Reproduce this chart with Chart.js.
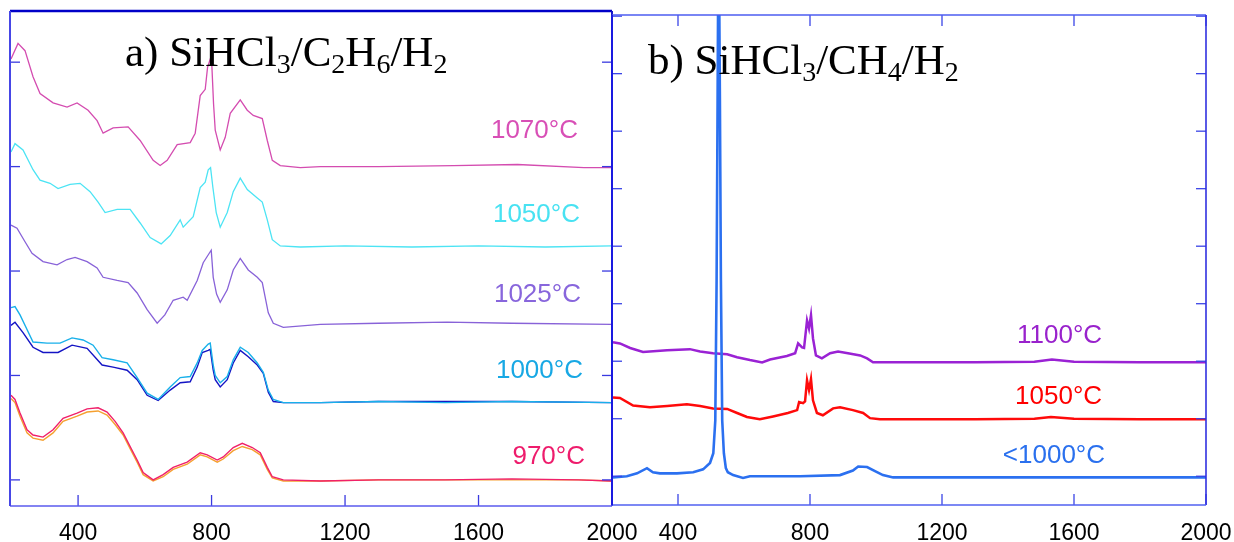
<!DOCTYPE html>
<html>
<head>
<meta charset="utf-8">
<script src="https://cdn.jsdelivr.net/npm/chart.js@4.4.1/dist/chart.umd.min.js"></script>
<style>
  body { margin: 0; background: #fff; width: 1234px; height: 542px; position: relative; overflow: hidden; }
  canvas { position: absolute; top: 0; }
  #chartA { left: 0; width: 640px; height: 542px; }
  #chartB { left: 590px; width: 644px; height: 542px; }
  .title { position: absolute; font-family: 'Liberation Serif', 'Times New Roman', serif; font-size: 43px;
           line-height: 43px; color: #000; white-space: nowrap; }
  .title sub { font-size: 28px; vertical-align: -7px; line-height: 0; }
</style>
</head>
<body>
<canvas id="chartA" width="640" height="542"></canvas>
<canvas id="chartB" width="644" height="542"></canvas>
<div class="title" style="left:125px;top:30px">a) SiHCl<sub>3</sub>/C<sub>2</sub>H<sub>6</sub>/H<sub>2</sub></div>
<div class="title" style="left:648px;top:38px">b) SiHCl<sub>3</sub>/CH<sub>4</sub>/H<sub>2</sub></div>
<script>
/* spectra: [wavenumber, intensity (offset, a.u.)] */
const xTicks = [400, 800, 1200, 1600, 2000];
const yTicksA = [0, 1, 2, 3, 4];
const yTicksB = [0, 1, 2, 3, 4, 5, 6, 7, 8];

// panel a) SiHCl3/C2H6/H2
const a1070 = [[199,4.03],[220,4.18],[241,4.11],[265,3.86],[286,3.70],[325,3.61],[367,3.57],[397,3.61],[430,3.54],
  [457,3.44],[475,3.32],[505,3.37],[550,3.38],[586,3.25],[625,3.06],[646,3.01],[667,3.06],[697,3.21],[736,3.23],
  [751,3.32],[766,3.68],[781,3.74],[788,3.95],[795,4.02],[801,3.96],[806,3.60],[811,3.35],[826,3.16],[841,3.28],
  [856,3.51],[886,3.64],[907,3.54],[925,3.49],[952,3.46],[967,3.25],[982,3.06],[1006,3.01],[1066,2.99],[1126,3.00],
  [1300,3.00],[1525,3.01],[1717,3.02],[1916,2.99],[2000,2.99]];
const a1050 = [[199,3.14],[211,3.22],[235,3.16],[265,2.97],[286,2.87],[316,2.84],[340,2.79],[376,2.83],[406,2.84],
  [436,2.76],[460,2.66],[481,2.56],[517,2.59],[556,2.59],[586,2.46],[616,2.32],[649,2.26],[676,2.34],[706,2.49],
  [715,2.42],[745,2.52],[766,2.80],[781,2.85],[790,2.97],[797,2.99],[804,2.80],[814,2.56],[826,2.42],[847,2.56],
  [865,2.76],[886,2.89],[907,2.78],[937,2.70],[952,2.66],[967,2.49],[982,2.30],[1006,2.24],[1066,2.23],[1200,2.24],
  [1400,2.23],[1600,2.24],[1800,2.23],[2000,2.24]];
const a1025 = [[199,2.44],[217,2.41],[241,2.28],[262,2.17],[295,2.09],[337,2.06],[367,2.11],[391,2.13],[427,2.09],
  [457,2.03],[475,1.94],[517,1.91],[550,1.89],[577,1.79],[607,1.63],[637,1.50],[660,1.58],[685,1.72],[715,1.75],
  [727,1.72],[757,1.91],[775,2.08],[795,2.18],[799,2.20],[805,1.94],[815,1.78],[826,1.70],[847,1.82],[865,2.01],
  [886,2.12],[910,2.01],[937,1.94],[952,1.89],[970,1.60],[985,1.50],[1015,1.46],[1126,1.49],[1300,1.50],[1506,1.51],
  [1700,1.50],[2000,1.49]];
const a1000light = [[199,1.65],[211,1.66],[226,1.58],[247,1.44],[265,1.32],[307,1.31],[346,1.31],[382,1.36],[415,1.34],
  [445,1.29],[472,1.17],[505,1.15],[547,1.12],[577,0.98],[607,0.83],[640,0.77],[676,0.89],[706,0.98],[736,0.99],
  [757,1.12],[772,1.24],[790,1.30],[796,1.31],[805,1.10],[811,1.00],[826,0.93],[847,0.99],[865,1.15],[886,1.27],
  [910,1.22],[937,1.12],[955,1.03],[970,0.86],[985,0.77],[1015,0.74],[1126,0.74],[1300,0.75],[1500,0.74],[1700,0.75],
  [2000,0.74]];
const a1000dark = [[199,1.48],[211,1.51],[235,1.41],[265,1.27],[295,1.22],[340,1.22],[382,1.29],[427,1.26],[472,1.10],
  [505,1.08],[547,1.05],[577,0.96],[607,0.81],[640,0.76],[676,0.86],[706,0.93],[736,0.94],[757,1.08],[772,1.22],
  [790,1.24],[796,1.25],[805,1.05],[811,0.96],[826,0.89],[847,0.96],[865,1.12],[886,1.24],[910,1.18],[937,1.10],
  [955,1.02],[970,0.84],[985,0.75],[1015,0.74],[1126,0.74],[1300,0.75],[1500,0.75],[1700,0.75],[2000,0.74]];
const a970 = [[199,0.81],[211,0.77],[226,0.64],[247,0.48],[265,0.43],[295,0.41],[325,0.48],[355,0.59],[397,0.64],
  [427,0.68],[460,0.69],[487,0.65],[511,0.56],[535,0.45],[556,0.32],[577,0.19],[595,0.07],[625,0.00],[655,0.05],
  [685,0.12],[727,0.17],[766,0.26],[787,0.24],[817,0.19],[835,0.22],[865,0.31],[892,0.35],[922,0.31],[946,0.26],
  [967,0.12],[982,0.03],[1015,0.00],[1126,-0.01],[1300,0.00],[1500,0.00],[1700,0.01],[1900,0.00],[2000,-0.01]];
const a970b = [[199,0.78],[211,0.74],[226,0.61],[247,0.45],[265,0.40],[295,0.38],[325,0.45],[355,0.56],[397,0.61],
  [427,0.65],[460,0.66],[487,0.62],[511,0.53],[535,0.43],[556,0.30],[577,0.17],[595,0.05],[625,-0.01],[655,0.03],
  [685,0.10],[727,0.15],[766,0.24],[787,0.22],[817,0.17],[835,0.20],[865,0.28],[892,0.32],[922,0.29],[946,0.24],
  [967,0.10],[982,0.02],[1015,-0.01],[1126,-0.01],[1300,0.00],[1500,0.00],[1700,0.00],[1900,0.00],[2000,-0.01]];

// panel b) SiHCl3/CH4/H2
const b1100 = [[203,2.33],[224,2.31],[255,2.23],[294,2.16],[367,2.19],[436,2.21],[467,2.17],[506,2.14],[549,2.12],
  [579,2.07],[618,2.02],[655,1.98],[679,2.03],[730,2.09],[755,2.14],[764,2.31],[776,2.24],[782,2.23],[791,2.71],
  [797,2.57],[803,2.80],[809,2.40],[818,2.10],[836,2.05],[861,2.14],[885,2.17],[915,2.14],[952,2.10],[973,2.05],
  [991,1.98],[1073,1.98],[1300,1.98],[1480,1.99],[1533,2.03],[1600,1.99],[1800,1.98],[2000,1.98]];
const b1050 = [[203,1.37],[224,1.36],[264,1.23],[315,1.20],[367,1.22],[427,1.25],[467,1.22],[506,1.18],[549,1.17],
  [579,1.10],[609,1.03],[648,0.99],[688,1.04],[733,1.10],[761,1.15],[767,1.29],[779,1.27],[785,1.30],[791,1.67],
  [797,1.50],[803,1.69],[809,1.32],[821,1.10],[839,1.06],[870,1.18],[891,1.20],[930,1.15],[961,1.10],[982,1.01],
  [1012,0.99],[1300,0.99],[1480,1.00],[1530,1.03],[1600,1.00],[1800,0.99],[2000,0.99]];
const b1000 = [[203,-0.02],[245,0.00],[276,0.05],[306,0.14],[324,0.07],[345,0.05],[397,0.05],[446,0.07],[476,0.12],
  [497,0.23],[507,0.40],[513,0.97],[517,3.41],[520,6.54],[523,10.0],[527,6.54],[530,3.41],[534,0.97],[539,0.40],
  [545,0.14],[551,0.07],[567,0.02],[597,-0.03],[618,0.00],[770,0.00],[891,0.02],[930,0.10],[946,0.17],[973,0.16],
  [997,0.09],[1021,0.02],[1052,-0.02],[1300,-0.02],[1600,-0.02],[2000,-0.02]];

const labelsA = [
  { text: '1070°C', x: 1898, y: 3.34, color: '#d84fb6' },
  { text: '1050°C', x: 1904, y: 2.54, color: '#48e2f2' },
  { text: '1025°C', x: 1907, y: 1.77, color: '#8866dc' },
  { text: '1000°C', x: 1913, y: 1.04, color: '#18a8e4' },
  { text: '970°C',  x: 1919, y: 0.22, color: '#ee1c6c' },
];
const labelsB = [
  { text: '1100°C',  x: 1685, y: 2.44, color: '#9922cc' },
  { text: '1050°C',  x: 1685, y: 1.38, color: '#ff0000' },
  { text: '<1000°C', x: 1694, y: 0.35, color: '#2a70ee' },
];

const SANS = "'Liberation Sans', Arial, sans-serif";

function series(pts, color, width) {
  return {
    data: pts.map(([x, y]) => ({ x, y })),
    borderColor: color, borderWidth: width,
    pointRadius: 0, fill: false, tension: 0,
  };
}

/* frame with inward tick marks, each side its own colour */
const framePlugin = {
  id: 'frame',
  afterDraw(chart, args, o) {
    const { ctx, chartArea: a, scales: { x, y } } = chart;
    const line = (x1, y1, x2, y2) => { ctx.beginPath(); ctx.moveTo(x1, y1); ctx.lineTo(x2, y2); ctx.stroke(); };
    ctx.save();
    ctx.strokeStyle = o.tickColor; ctx.lineWidth = 1.3;
    for (const v of o.yTicks) {
      const py = y.getPixelForValue(v);
      line(a.left, py, a.left + 10, py);
      line(a.right - 10, py, a.right, py);
    }
    for (const v of xTicks) {
      const px = x.getPixelForValue(v);
      line(px, a.bottom, px, a.bottom - 11);
      if (o.topTicks) line(px, a.top, px, a.top + 11);
    }
    const s = o.sides;
    ctx.lineWidth = s.top[1]; ctx.strokeStyle = s.top[0]; line(a.left, a.top, a.right, a.top);
    ctx.lineWidth = s.right[1]; ctx.strokeStyle = s.right[0]; line(a.right, a.top, a.right, a.bottom);
    ctx.lineWidth = s.bottom[1]; ctx.strokeStyle = s.bottom[0]; line(a.left, a.bottom, a.right, a.bottom);
    ctx.lineWidth = s.left[1]; ctx.strokeStyle = s.left[0]; line(a.left, a.top, a.left, a.bottom);
    ctx.restore();
  },
};

const tempLabelPlugin = {
  id: 'tempLabels',
  afterDatasetsDraw(chart, args, o) {
    const { ctx, scales: { x, y } } = chart;
    ctx.save();
    ctx.font = '26px ' + SANS;
    ctx.textAlign = 'right';
    ctx.textBaseline = 'middle';
    for (const it of o.items) {
      ctx.fillStyle = it.color;
      ctx.fillText(it.text, x.getPixelForValue(it.x), y.getPixelForValue(it.y));
    }
    ctx.restore();
  },
};

function createPanel(id, datasets, o) {
  return new Chart(document.getElementById(id), {
    type: 'line',
    data: { datasets },
    options: {
      responsive: false,
      animation: false,
      events: [],
      layout: { padding: o.padding },
      plugins: {
        legend: { display: false },
        tooltip: { enabled: false },
        frame: o.frame,
        tempLabels: { items: o.labels },
      },
      scales: {
        x: {
          type: 'linear', min: o.xMin, max: o.xMax,
          afterBuildTicks: s => { s.ticks = xTicks.map(v => ({ value: v })); },
          // fixed axis height; the "2000" label may overhang the plot edge
          afterFit: s => { s.height = o.axisH; s.paddingLeft = 0; s.paddingRight = 0; },
          grid: { display: false, drawTicks: false },
          border: { display: false },
          ticks: { color: '#000', font: { family: SANS, size: 23 }, padding: o.labelPad,
                   maxRotation: 0, autoSkip: false, callback: v => String(v) },
        },
        y: { type: 'linear', display: false, min: o.yMin, max: o.yMax },
      },
    },
    plugins: [framePlugin, tempLabelPlugin],
  });
}

createPanel('chartA', [
  series(a1070, '#d44cb0', 1.3),
  series(a1050, '#4ce4f4', 1.3),
  series(a1025, '#8862d8', 1.3),
  series(a1000light, '#18b0ea', 1.4),
  series(a1000dark, '#1414c4', 1.4),
  series(a970, '#f0206a', 1.4),
  series(a970b, '#f5a030', 1.4),
], {
  xMin: 196, xMax: 2000, yMin: -0.25, yMax: 4.49,
  padding: { left: 10, top: 11, right: 28, bottom: 0 }, axisH: 36, labelPad: 14,
  labels: labelsA,
  frame: {
    yTicks: yTicksA, topTicks: false, tickColor: '#3a3ae0',
    sides: { top: ['#0000c8', 2.5], right: ['#1414c8', 2], bottom: ['#5a5aee', 1.5], left: ['#4646e6', 2] },
  },
});

createPanel('chartB', [
  series(b1000, '#2b70f0', 2.6),
  series(b1100, '#9a22d4', 2.5),
  series(b1050, '#ff0a0a', 2.5),
], {
  xMin: 200, xMax: 2000, yMin: -0.5, yMax: 8.02,
  padding: { left: 22, top: 15, right: 28, bottom: 0 }, axisH: 37, labelPad: 15,
  labels: labelsB,
  frame: {
    yTicks: yTicksB, topTicks: true, tickColor: '#3a44e6',
    sides: { top: ['#4d5cf0', 1.6], right: ['#3030e0', 1.6], bottom: ['#5060f0', 1.5], left: ['#1a1ae0', 2] },
  },
});
</script>
</body>
</html>
